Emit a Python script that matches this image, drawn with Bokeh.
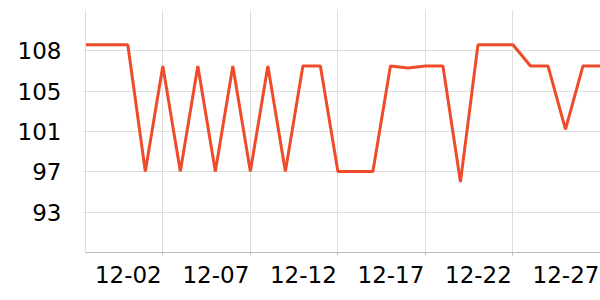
import pandas as pd
from bokeh.plotting import figure
from bokeh.models import Range1d, FixedTicker, DatetimeAxis
from bokeh.embed import file_html
from bokeh.resources import INLINE

dates = ["2023-11-27", "2023-11-28", "2023-11-29", "2023-11-30", "2023-12-01",
         "2023-12-02", "2023-12-03", "2023-12-04", "2023-12-05", "2023-12-06",
         "2023-12-07", "2023-12-08", "2023-12-09", "2023-12-10", "2023-12-11",
         "2023-12-12", "2023-12-13", "2023-12-14", "2023-12-15", "2023-12-16",
         "2023-12-17", "2023-12-18", "2023-12-19", "2023-12-20", "2023-12-21",
         "2023-12-22", "2023-12-23", "2023-12-24", "2023-12-25", "2023-12-26",
         "2023-12-27"]
values = [109, 109, 109, 109, 97,
          107, 97, 107, 97, 107,
          97, 107, 97, 107, 107,
          97, 97, 97, 107, 106.8,
          107, 107, 96, 109, 109,
          109, 107, 107, 101, 107,
          107]

x_tick_dates = ["2023-12-02", "2023-12-07", "2023-12-12", "2023-12-17", "2023-12-22", "2023-12-27"]
x_tick_labels = ["12-02", "12-07", "12-12", "12-17", "12-22", "12-27"]
y_tick_labels = ["93", "97", "101", "105", "108"]

y_start, y_step = 89.33, 3.82

x = pd.to_datetime(dates)
FONT = "DejaVu Sans"
FS = "23px"

W, H = 600, 300
LEFT = 85
x_start = pd.Timestamp("2023-11-27 14:00")
x_end = pd.Timestamp("2023-12-27")

p = figure(width=W, height=H, output_backend="svg", toolbar_location=None,
           x_axis_type="datetime",
           x_range=Range1d(x_start, x_end),
           y_range=Range1d(y_start, y_start + 6 * y_step),
           min_border_left=LEFT, min_border_right=0, min_border_top=10, min_border_bottom=48)
p.outline_line_color = None
p.background_fill_color = "white"
p.border_fill_color = "white"

p.line(x, values, line_color="#ee4b2b", line_width=3)

# main x axis: line, tick marks and grid at the dates
xt_ms = [pd.Timestamp(d).value / 1e6 for d in x_tick_dates]
xax = p.xaxis[0]
xax.ticker = FixedTicker(ticks=xt_ms)
xax.major_label_text_font_size = "0px"
xax.major_label_text_color = None
xax.major_label_standoff = 0
xax.minor_tick_line_color = None
xax.major_tick_in = 0
xax.major_tick_out = 3
xax.axis_line_color = "#bbbbbb"
xax.major_tick_line_color = "#bbbbbb"
p.xgrid.ticker = FixedTicker(ticks=xt_ms)

# label-only axis: labels end at their tick (right aligned look)
ms_per_px = (x_end - x_start).value / 1e6 / (W - LEFT)
half_label_px = 34.5
shift = half_label_px * ms_per_px
lab_ticks = [t - shift for t in xt_ms]
lab_axis = DatetimeAxis(ticker=FixedTicker(ticks=lab_ticks),
                        major_label_overrides={t: l for t, l in zip(lab_ticks, x_tick_labels)},
                        axis_line_color=None, major_tick_line_color=None,
                        minor_tick_line_color=None, major_label_standoff=4,
                        major_label_text_font=FONT, major_label_text_font_size=FS,
                        major_label_text_color="#000000")
p.add_layout(lab_axis, "below")

yt = [y_start + (i + 1) * y_step for i in range(len(y_tick_labels))]
yax = p.yaxis[0]
yax.ticker = FixedTicker(ticks=yt)
yax.major_label_overrides = {t: l for t, l in zip(yt, y_tick_labels)}
yax.major_label_text_font = FONT
yax.major_label_text_font_size = FS
yax.major_label_text_color = "#000000"
yax.major_label_standoff = 22
yax.minor_tick_line_color = None
yax.major_tick_in = 0
yax.major_tick_out = 2
yax.axis_line_color = "#dddddd"
yax.major_tick_line_color = "#dddddd"

p.xgrid.grid_line_color = "#dddddd"
p.ygrid.grid_line_color = "#dddddd"

open("out.html", "w").write(file_html(p, INLINE))
